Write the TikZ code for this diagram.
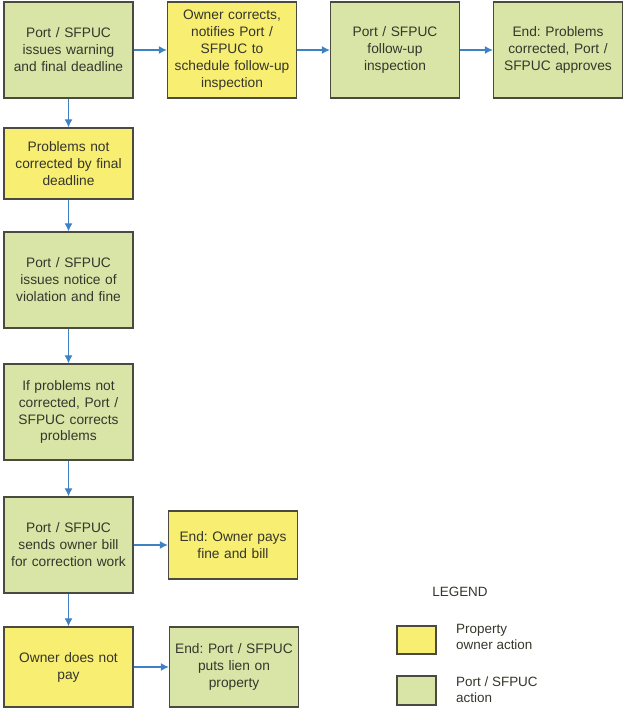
\documentclass[tikz,border=0pt]{standalone}
\usepackage{fontspec}
\setmainfont{Liberation Sans}
\usepackage{xcolor}
\usepackage{tikz}
\usetikzlibrary{arrows.meta}
\frenchspacing
\definecolor{ownfill}{HTML}{F7EE72}
\definecolor{portfill}{HTML}{D8E5A6}
\definecolor{edge}{HTML}{4A4A40}
\definecolor{txt}{HTML}{36362C}
\definecolor{arrowblue}{HTML}{3F82C4}
\tikzset{
    box/.style={draw=edge, line width=1.3bp, inner sep=2bp, align=center, text=txt,
      minimum width=129bp, text width=124bp, font=\fontsize{13.8}{17}\selectfont},
    ownbox/.style={box, fill=ownfill, minimum height=#1}, ownbox/.default=96bp,
    portbox/.style={box, fill=portfill, minimum height=#1}, portbox/.default=96bp,
    arr/.style={draw=arrowblue, line width=1.2bp, -{Latex[length=8bp,width=8bp]}}}

\begin{document}
\begin{tikzpicture}[x=1bp,y=-1bp]
\useasboundingbox (0,0) rectangle (625,709);

\node[portbox] (p1) at (68.5,50) {Port / SFPUC\\issues warning\\and final deadline};
\node[ownbox]  (o1) at (232,50) {Owner corrects,\\notifies Port /\\SFPUC to\\schedule follow-up\\inspection};
\node[portbox] (p2) at (395,50) {Port / SFPUC\\follow-up\\inspection};
\node[portbox] (p3) at (558,50) {End: Problems\\corrected, Port /\\SFPUC approves};

\node[ownbox=71bp] (o2) at (68.5,163.5) {Problems not\\corrected by final\\deadline};
\node[portbox] (p4) at (68.5,280) {Port / SFPUC\\issues notice of\\violation and fine};
\node[portbox] (p5) at (68.5,412) {If problems not\\corrected, Port /\\SFPUC corrects\\problems};
\node[portbox] (p6) at (68.5,545) {Port / SFPUC\\sends owner bill\\for correction work};
\node[ownbox=68bp] (o3) at (233,545) {End: Owner pays\\fine and bill};
\node[ownbox=80bp] (o4) at (68.5,667) {Owner does not\\pay};
\node[portbox=80bp] (p7) at (234,667) {End: Port / SFPUC\\puts lien on\\property};

\draw[arr] (p1) -- (o1);
\draw[arr] (o1) -- (p2);
\draw[arr] (p2) -- (p3);
\draw[arr] (p1) -- (o2);
\draw[arr] (o2) -- (p4);
\draw[arr] (p4) -- (p5);
\draw[arr] (p5) -- (p6);
\draw[arr] (p6) -- (o3);
\draw[arr] (p6) -- (o4);
\draw[arr] (o4) -- (p7);

\node[text=txt, font=\fontsize{13.5}{16}\selectfont] (leg) at (460,592) {LEGEND};
\node[draw=edge, line width=1.3bp, fill=ownfill, minimum width=39bp, minimum height=28bp, inner sep=0pt] (ko) at (416.5,640) {};
\node[draw=edge, line width=1.3bp, fill=portfill, minimum width=39bp, minimum height=29bp, inner sep=0pt] (kp) at (416.5,690.5) {};
\node[anchor=west, align=left, text=txt, inner sep=0pt, font=\fontsize{13.5}{16}\selectfont] (ko text) at (456,637) {Property\\owner action};
\node[anchor=west, align=left, text=txt, inner sep=0pt, font=\fontsize{13.5}{16}\selectfont] (kp text) at (456,690) {Port / SFPUC\\action};
\end{tikzpicture}
\end{document}
